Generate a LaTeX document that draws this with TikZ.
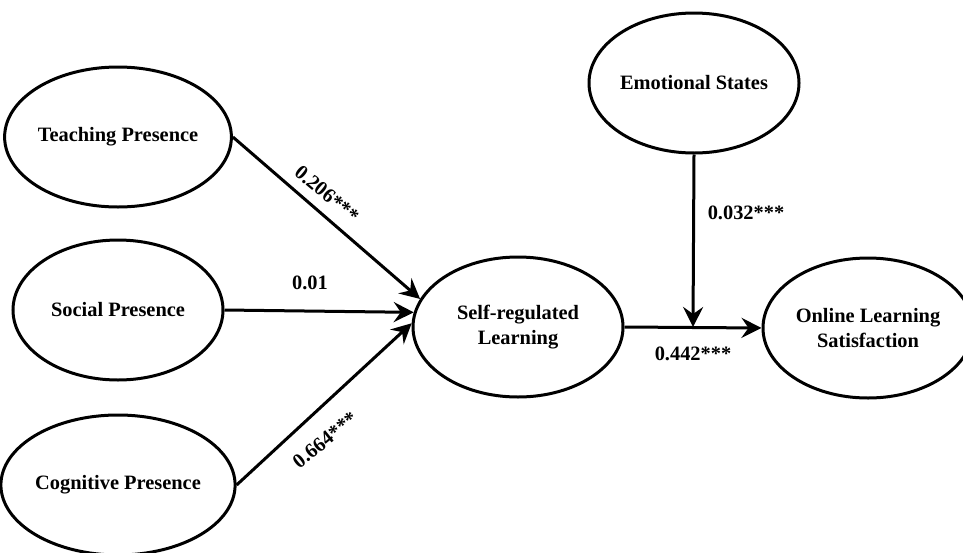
\documentclass[tikz,border=0pt]{standalone}
\usepackage{fontspec}
\setmainfont{Liberation Serif}
\usetikzlibrary{shapes.geometric,arrows.meta}
\begin{document}
\begin{tikzpicture}[x=1pt,y=-1pt,
  var/.style={draw=black,line width=3pt,ellipse,inner sep=0pt,
    minimum width=210pt,minimum height=140pt,align=center,
    font=\bfseries\fontsize{20.4}{25.5}\selectfont},
  lbl/.style={inner sep=0pt,font=\bfseries\fontsize{20.4}{25}\selectfont},
  conn/.style={line width=3pt,-{Stealth[length=20pt,width=20pt,inset=7pt]}}]
\useasboundingbox (0,0) rectangle (963,552);
\clip (0,0) rectangle (963,552);
\node[var] (tp) at (118,137) {Teaching Presence};
\node[var] (sp) at (118,310) {Social Presence};
\node[var] (cp) at (118,485) {Cognitive Presence};
\node[var] (srl) at (518,327) {Self-regulated\\Learning};
\node[var] (es) at (694,83) {Emotional States};
\node[var] (ols) at (868,328) {Online Learning\\Satisfaction};
\coordinate (m) at (693,327);
\draw[conn] (tp.east) -- (srl.164);
\draw[conn] (sp.east) -- (srl.172);
\draw[conn] (cp.east) -- (srl.178);
\draw[conn] (srl.east) -- (ols.west);
\draw[conn] (es.south) -- (m);
\node[lbl,rotate=-40] (l1) at (327,194) {0.206***};
\node[lbl] (l2) at (310,283) {0.01};
\node[lbl,rotate=39] (l3) at (325,440) {0.664***};
\node[lbl] (l4) at (746,213) {0.032***};
\node[lbl] (l5) at (693,354) {0.442***};
\end{tikzpicture}
\end{document}
